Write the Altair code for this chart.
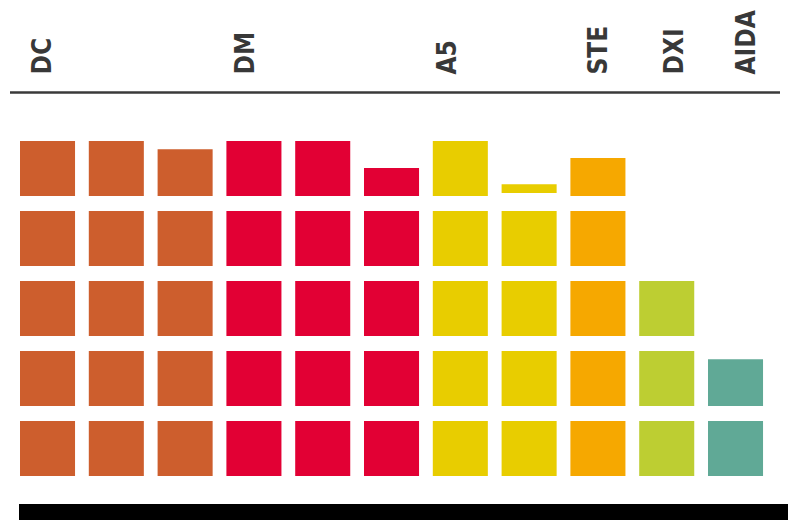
import altair as alt
import pandas as pd

# ---- data ----
groups = ["DC", "DC", "DC", "DM", "DM", "DM", "A5", "A5", "STE", "DXI", "AIDA"]
column_values = [5, 5, 4.85, 5, 5, 4.51, 5, 4.16, 4.69, 3, 1.85]
partial_offset = [0, 0, 0, 0, 0, 0, 0, 0.055, 0, 0, 0]

label_names = ["DC", "DM", "A5", "STE", "DXI", "AIDA"]
label_pos = [0.34, 3.28, 6.22, 8.42, 9.52, 10.56]

group_colors = {
    "DC": "#CD5E2D",
    "DM": "#E20034",
    "A5": "#E8CD00",
    "STE": "#F6A800",
    "DXI": "#BDCE32",
    "AIDA": "#60A996",
}

# ---- build cells ----
CELL_W = 0.8      # fraction of column pitch
CELL_H = 55 / 70  # fraction of row pitch
rows = []
for i, (g, v, off) in enumerate(zip(groups, column_values, partial_offset)):
    k = 0
    remaining = v
    while remaining > 1e-9:
        frac = min(1.0, remaining)
        y0 = k + off * CELL_H if frac < 1 else k
        rows.append(dict(group=g, x=i, x2=i + CELL_W, y=y0, y2=y0 + frac * CELL_H))
        remaining -= frac
        k += 1
cells = pd.DataFrame(rows)
labels = pd.DataFrame(dict(name=label_names, x=label_pos, y=[5.736] * len(label_names)))

W, H = 780, 512
xs = alt.Scale(domain=[(8 - 20) / 68.8, (8 + W - 20) / 68.8], nice=False, zero=False)
ys = alt.Scale(domain=[(476 - (8 + H)) / 70, (476 - 8) / 70], nice=False, zero=False)

color = alt.Color(
    "group:N",
    scale=alt.Scale(domain=list(group_colors.keys()), range=list(group_colors.values())),
    legend=None,
)

squares = alt.Chart(cells).mark_rect().encode(
    x=alt.X("x:Q", scale=xs, axis=None),
    x2="x2:Q",
    y=alt.Y("y:Q", scale=ys, axis=None),
    y2="y2:Q",
    color=color,
)

text = alt.Chart(labels).mark_text(
    angle=270, align="left", baseline="middle", fontSize=26, fontWeight="bold",
    font="DejaVu Sans Condensed, sans-serif", color="#383838",
).encode(
    x=alt.X("x:Q", scale=xs, axis=None),
    y=alt.Y("y:Q", scale=ys, axis=None),
    text="name:N",
)

top_rule = alt.Chart(pd.DataFrame({"a": [0]})).mark_rule(
    color="#3a3a3a", strokeWidth=2.5
).encode(x=alt.value(2), x2=alt.value(772), y=alt.value(84.5))

bottom_bar = alt.Chart(pd.DataFrame({"a": [0]})).mark_rect(color="#000000").encode(
    x=alt.value(11), x2=alt.value(W), y=alt.value(496), y2=alt.value(H)
)

chart = alt.layer(top_rule, squares, text, bottom_bar).properties(
    width=W, height=H, padding=0, autosize=alt.AutoSizeParams(type="none")
).configure_view(stroke=None)

chart.save("out.html", embed_options={"renderer": "svg", "actions": False})
